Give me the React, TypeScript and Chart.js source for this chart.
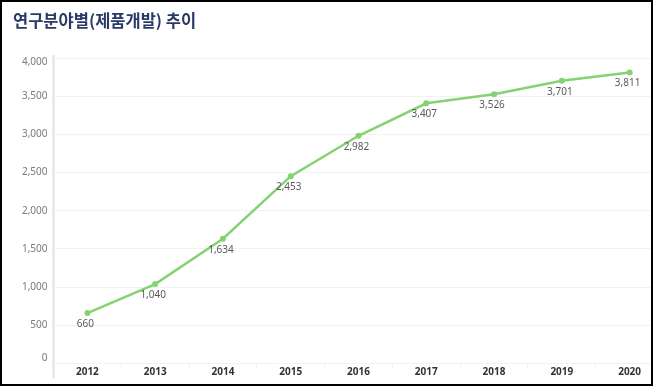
import React, { useEffect, useRef } from "react";
import { Chart, registerables } from "chart.js";

Chart.register(...registerables);

const TITLE = "연구분야별(제품개발) 추이";
const YEARS = ["2012", "2013", "2014", "2015", "2016", "2017", "2018", "2019", "2020"];
const VALUES = [660, 1040, 1634, 2453, 2982, 3407, 3526, 3701, 3811];
const Y_MIN = 0;
const Y_MAX = 4000;
const Y_STEP = 500;

const LINE_COLOR = "#84d271";
const NUM_FONT = "'Noto Sans', 'Open Sans', sans-serif";

const fmt = (v: number) => v.toLocaleString("en-US");

const dataLabelPlugin = {
  id: "dataLabels",
  afterDatasetsDraw(chart: any) {
    const ctx = chart.ctx;
    const meta = chart.getDatasetMeta(0);
    ctx.save();
    ctx.font = `10px ${NUM_FONT}`;
    ctx.fillStyle = "#5a5a5a";
    ctx.textAlign = "center";
    ctx.textBaseline = "middle";
    meta.data.forEach((pt: any, i: number) => {
      ctx.fillText(fmt(VALUES[i]), pt.x - 2, pt.y + 11);
    });
    ctx.restore();
  },
};

const axisLinePlugin = {
  id: "axisLine",
  beforeDraw(chart: any) {
    const ys = chart.scales.y;
    const items = ys.getLabelItems();
    if (items.length) {
      const first = items[0];
      const last = items[items.length - 1];
      if (!first._shifted) {
        first.options.translation[1] -= 5;
        first._shifted = true;
      }
      if (!last._shifted) {
        last.options.translation[1] += 4;
        last._shifted = true;
      }
    }
  },
  afterDraw(chart: any) {
    const ctx = chart.ctx;
    const a = chart.chartArea;
    ctx.save();
    ctx.strokeStyle = "#e2e2e2";
    ctx.lineWidth = 2;
    ctx.beginPath();
    ctx.moveTo(a.left, a.top - 3);
    ctx.lineTo(a.left, a.bottom + 15);
    ctx.stroke();
    ctx.restore();
  },
};

export default function App() {
  const ref = useRef<HTMLCanvasElement | null>(null);

  useEffect(() => {
    if (!ref.current) return;
    const chart = new Chart(ref.current, {
      type: "line",
      data: {
        labels: YEARS,
        datasets: [
          {
            data: VALUES,
            borderColor: LINE_COLOR,
            backgroundColor: LINE_COLOR,
            borderWidth: 2.5,
            pointRadius: 3,
            pointBorderWidth: 0,
            pointBackgroundColor: LINE_COLOR,
            tension: 0,
            fill: false,
          },
        ],
      },
      options: {
        animation: false,
        responsive: true,
        maintainAspectRatio: false,
        layout: { padding: { top: 58, right: 16.5, bottom: 0, left: 0 } },
        plugins: {
          legend: { display: false },
          tooltip: { enabled: false },
          title: { display: false },
        },
        scales: {
          x: {
            type: "category",
            offset: true,
            grid: {
              offset: true,
              drawOnChartArea: false,
              drawTicks: true,
              tickLength: 4,
              color: "#ececec",
            },
            border: { display: false },
            ticks: {
              padding: -1,
              color: "#333333",
              font: { family: NUM_FONT, size: 10, weight: "bold" },
              maxRotation: 0,
              autoSkip: false,
            },
            afterFit: (s: any) => {
              s.height = 22.5;
            },
          },
          y: {
            min: Y_MIN,
            max: Y_MAX,
            ticks: {
              stepSize: Y_STEP,
              padding: 6,
              color: "#7a7a7a",
              font: { family: NUM_FONT, size: 10 },
              callback: (v: any) => fmt(Number(v)),
            },
            grid: {
              drawTicks: false,
              color: "#f2f2f2",
              lineWidth: 1,
            },
            border: { display: false },
            afterFit: (s: any) => {
              s.width = 53.5;
            },
          },
        },
      },
      plugins: [dataLabelPlugin, axisLinePlugin],
    });
    return () => chart.destroy();
  }, []);

  return (
    <div
      style={{
        position: "fixed",
        left: 0,
        top: 0,
        width: 653,
        height: 386,
        overflow: "hidden",
        background: "#ffffff",
      }}
    >
      <div style={{ position: "absolute", left: 0, top: 0, width: 680, height: 386 }}>
        <canvas ref={ref} />
      </div>
      <div
        style={{
          position: "absolute",
          left: 13,
          top: 9,
          fontFamily: "'Noto Sans CJK KR', sans-serif",
          fontWeight: 700,
          fontSize: 16.5,
          lineHeight: "22px",
          color: "#2a3a66",
          whiteSpace: "nowrap",
        }}
      >
        {TITLE}
      </div>
      <div
        style={{
          position: "absolute",
          left: 0,
          top: 0,
          width: 653,
          height: 386,
          boxSizing: "border-box",
          border: "2px solid #000",
          pointerEvents: "none",
        }}
      />
    </div>
  );
}
